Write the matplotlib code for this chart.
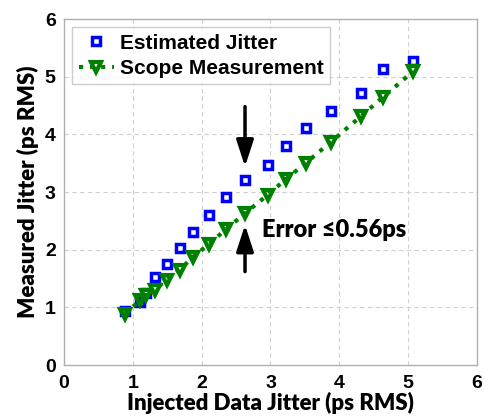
import matplotlib
matplotlib.use("Agg")
import matplotlib.pyplot as plt

#  Data
injected = [0.88, 1.11, 1.19, 1.32, 1.49, 1.68, 1.87, 2.10, 2.35, 2.63,
            2.96, 3.22, 3.52, 3.88, 4.31, 4.64, 5.07]
estimated = [0.93, 1.10, 1.25, 1.53, 1.76, 2.03, 2.30, 2.60, 2.91, 3.20,
             3.47, 3.79, 4.11, 4.41, 4.72, 5.14, 5.27]
scope = [0.89, 1.12, 1.21, 1.30, 1.48, 1.65, 1.87, 2.09, 2.35, 2.63,
         2.95, 3.22, 3.51, 3.87, 4.31, 4.65, 5.09]
ticks = [0, 1, 2, 3, 4, 5, 6]

arial = "Liberation Sans"
label_font = "Lato"

fig = plt.figure(figsize=(4.84, 4.17), dpi=100)
ax = fig.add_axes([0.1322, 0.1247, 0.8533, 0.8297])

ax.plot(injected, estimated, linestyle="none", marker="s", color="#0000ff",
        markerfacecolor="none", markersize=5.5, markeredgewidth=2.5,
        label="Estimated Jitter", zorder=3)
ax.plot(injected, scope, linestyle=":", linewidth=3, color="#008000",
        marker="v", markerfacecolor="none", markersize=7,
        markeredgewidth=3, label="Scope Measurement", zorder=3)

#  Error arrows and text
ax.annotate("", xy=(2.63, 3.44), xytext=(2.63, 4.48),
            arrowprops=dict(arrowstyle="-|>,head_length=0.4,head_width=0.13",
                            mutation_scale=40, lw=2.5, color="black",
                            shrinkA=0, shrinkB=0))
ax.annotate("", xy=(2.63, 2.43), xytext=(2.63, 1.62),
            arrowprops=dict(arrowstyle="-|>,head_length=0.4,head_width=0.13",
                            mutation_scale=40, lw=2.5, color="black",
                            shrinkA=0, shrinkB=0))
ax.text(2.87, 2.34, "Error \u22640.56ps", fontsize=17, fontweight="heavy",
        family=[label_font, "DejaVu Sans"], va="center", ha="left")

ax.set_xlim(0, 6)
ax.set_ylim(0, 6)
ax.set_xticks(ticks)
ax.set_yticks(ticks)
ax.tick_params(length=0)
ax.tick_params(axis="x", pad=7)
ax.tick_params(axis="y", pad=6)
for lab in ax.get_xticklabels() + ax.get_yticklabels():
    lab.set_fontfamily(arial)
    lab.set_fontweight("bold")
    lab.set_fontsize(14)

ax.grid(True, linestyle=(0, (4, 3)), color="#d0d0d0", linewidth=0.8)
for s in ax.spines.values():
    s.set_color("#b0b0b0")
    s.set_linewidth(1)

ax.set_xlabel("Injected Data Jitter (ps RMS)", fontsize=16, fontweight="heavy",
              family=label_font, labelpad=0)
ax.set_ylabel("Measured Jitter (ps RMS)", fontsize=16, fontweight="heavy",
              family=label_font, labelpad=4)

leg = ax.legend(loc="upper left", prop=dict(family=arial, weight="bold", size=15),
                frameon=True, fancybox=False, borderaxespad=0.4,
                handlelength=1.7, handletextpad=0.3, borderpad=0.3,
                labelspacing=0.3)
leg.get_frame().set_edgecolor("#c0c0c0")
leg.get_frame().set_linewidth(1)

fig.savefig("out.png", dpi=100)
